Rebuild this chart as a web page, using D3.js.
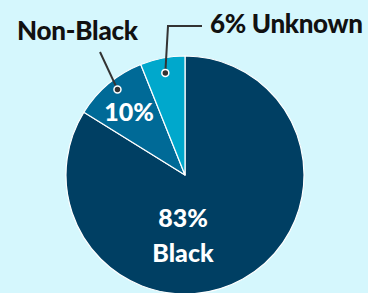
<!DOCTYPE html>
<html>
<head>
<meta charset="utf-8">
<script src="https://cdn.jsdelivr.net/npm/d3@7"></script>
<style>
  body { margin: 0; background: #d5f7fd; }
  svg { display: block; }
  text { font-family: Lato, "DejaVu Sans", sans-serif; font-weight: 900; }
</style>
</head>
<body>
<div id="chart"></div>
<script>
// shares, in drawing order clockwise from 12 o'clock
var categories = ['Black', 'Non-Black', 'Unknown']
var shares = [83, 10, 6]
var pct_labels = ['83%', '10%', '6%']
var colors = ['#003f63', '#006a97', '#00a8cc']

const width = 368, height = 293
const cx = 185, cy = 175, radius = 119

var svg = d3.select('#chart').append('svg')
    .attr('width', width)
    .attr('height', height)

var pie = d3.pie().sort(null).value(d => d.value)
var arc = d3.arc().innerRadius(0).outerRadius(radius)

var data = categories.map((c, i) => ({ name: c, value: shares[i], pct: pct_labels[i], color: colors[i] }))
var arcs = pie(data)

var g = svg.append('g').attr('transform', 'translate(' + cx + ',' + cy + ')')

g.selectAll('path')
    .data(arcs)
    .enter()
    .append('path')
    .attr('d', arc)
    .attr('fill', d => d.data.color)
    .attr('stroke', 'white')
    .attr('stroke-width', 1.2)
    .attr('stroke-linejoin', 'round')

// point on the pie at angle a (radians, clockwise from top) and radius r
function polar(a, r) {
    return [Math.sin(a) * r, -Math.cos(a) * r]
}

// inside labels
var black = arcs[0]
g.append('text')
    .attr('x', -2).attr('y', 52)
    .attr('text-anchor', 'middle')
    .attr('fill', 'white')
    .attr('font-size', 25)
    .text(black.data.pct)
g.append('text')
    .attr('x', -2).attr('y', 87)
    .attr('text-anchor', 'middle')
    .attr('fill', 'white')
    .attr('font-size', 25)
    .text(black.data.name)

var nonblack = arcs[1]
var nbMid = (nonblack.startAngle + nonblack.endAngle) / 2
var nbText = polar(nbMid - 0.03, 84)
g.append('text')
    .attr('x', nbText[0]).attr('y', nbText[1] + 9)
    .attr('text-anchor', 'middle')
    .attr('fill', 'white')
    .attr('font-size', 25)
    .text(nonblack.data.pct)

// leader lines with dots
var nbDot = polar(nbMid + 0.03, 109)
var unk = arcs[2]
var unkMid = (unk.startAngle + unk.endAngle) / 2
var unkDot = polar(unkMid, 104)

var leaders = g.append('g')
leaders.append('path')
    .attr('d', d3.line()([[100 - cx, 52 - cy], nbDot]))
    .attr('fill', 'none').attr('stroke', '#333').attr('stroke-width', 2)
leaders.append('path')
    .attr('d', d3.line()([[202 - cx, 26 - cy], [168 - cx, 26 - cy], unkDot]))
    .attr('fill', 'none').attr('stroke', '#333').attr('stroke-width', 2)
leaders.selectAll('circle')
    .data([nbDot, unkDot])
    .enter()
    .append('circle')
    .attr('cx', d => d[0]).attr('cy', d => d[1])
    .attr('r', 3.5)
    .attr('fill', '#333')
    .attr('stroke', 'white')
    .attr('stroke-width', 1.5)

// outside labels
svg.append('text')
    .attr('x', 17).attr('y', 40)
    .attr('fill', '#111')
    .attr('font-size', 26)
    .attr('textLength', 121)
    .text(nonblack.data.name)
svg.append('text')
    .attr('x', 210).attr('y', 33)
    .attr('fill', '#111')
    .attr('font-size', 26)
    .attr('textLength', 153)
    .text(unk.data.pct + ' ' + unk.data.name)
</script>
</body>
</html>
